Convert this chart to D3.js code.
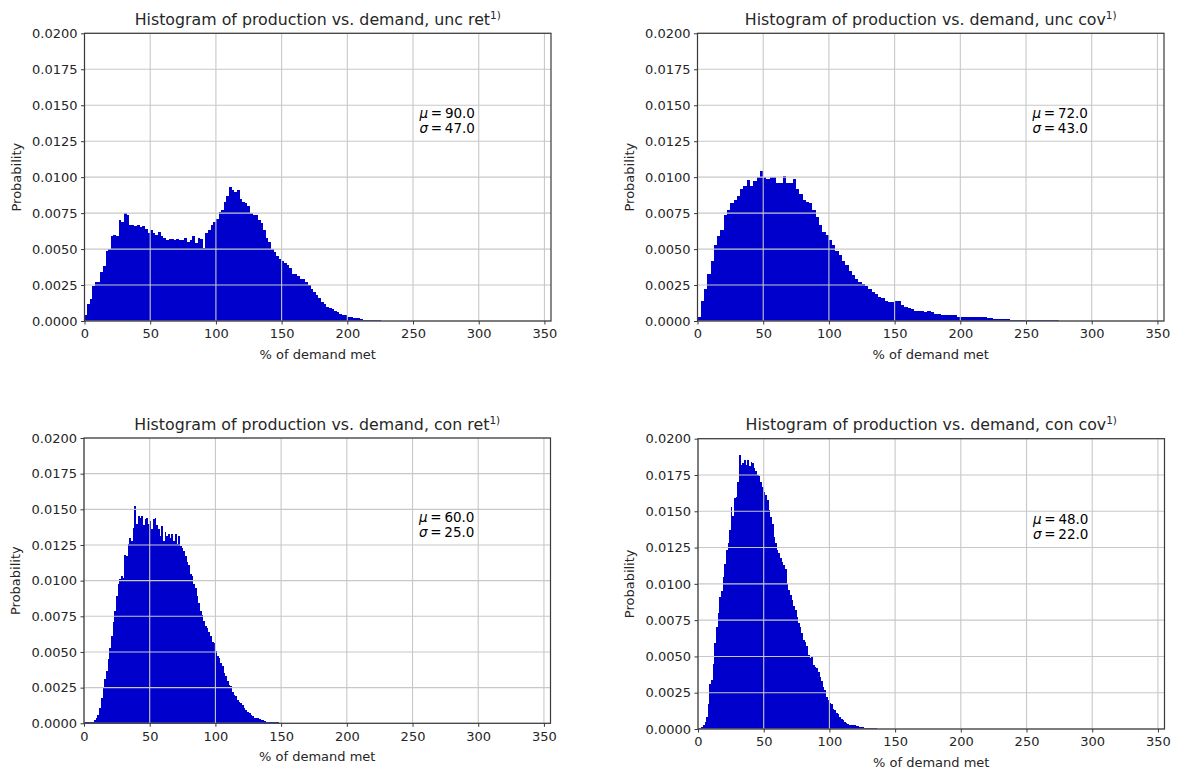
<!DOCTYPE html>
<html>
<head>
<meta charset="utf-8">
<script src="https://cdn.jsdelivr.net/npm/d3@7/dist/d3.min.js"></script>
<style>
  html, body { margin: 0; padding: 0; background: #ffffff; }
  svg { display: block; font-family: "DejaVu Sans", sans-serif; }
</style>
</head>
<body>
<svg id="chart" width="1181" height="769"></svg>
<script>
// ---------------- data ----------------
const xTickValues = [0, 50, 100, 150, 200, 250, 300, 350];
const yTickValues = [0, 0.0025, 0.005, 0.0075, 0.01, 0.0125, 0.015, 0.0175, 0.02];
const xLabel = "% of demand met";
const yLabel = "Probability";

const titles = [
  "Histogram of production vs. demand, unc ret",
  "Histogram of production vs. demand, unc cov",
  "Histogram of production vs. demand, con ret",
  "Histogram of production vs. demand, con cov"
];
const titleSuperscript = "1)";
const muValues = ["90.0", "72.0", "60.0", "48.0"];
const sigmaValues = ["47.0", "43.0", "25.0", "22.0"];

// bin widths (in % of demand met), bins start at 0
const binWidths = [2, 2.5, 1.28, 1.25];

const probUncRet = [
  0.0004, 0.0012, 0.0015, 0.0024, 0.0027, 0.0027, 0.0034, 0.0038, 0.0049, 0.0050,
  0.0059, 0.0060, 0.0059, 0.0070, 0.0069, 0.0075, 0.0074, 0.0067, 0.0067, 0.0066,
  0.0067, 0.0065, 0.0066, 0.0064, 0.0061, 0.0063, 0.0061, 0.0060, 0.0062, 0.0059,
  0.0058, 0.0056, 0.0057, 0.0057, 0.0056, 0.0057, 0.0056, 0.0056, 0.0058, 0.0055,
  0.0056, 0.0059, 0.0054, 0.0058, 0.0057, 0.0051, 0.0061, 0.0063, 0.0067, 0.0069,
  0.0071, 0.0076, 0.0077, 0.0083, 0.0087, 0.0093, 0.0091, 0.0090, 0.0091, 0.0085,
  0.0083, 0.0082, 0.0080, 0.0075, 0.0074, 0.0074, 0.0070, 0.0068, 0.0063, 0.0058,
  0.0055, 0.0050, 0.0048, 0.0045, 0.0043, 0.0042, 0.0040, 0.0039, 0.0037, 0.0033,
  0.0033, 0.0031, 0.0029, 0.0029, 0.0027, 0.0025, 0.0022, 0.0020, 0.0018, 0.0016,
  0.0013, 0.0012, 0.0010, 0.0009, 0.0008, 0.0007, 0.0006, 0.0005, 0.0004, 0.0004,
  0.0003, 0.0003, 0.0002, 0.0002, 0.0002, 0.00015, 0.0001, 0.0001, 0.00008, 0.00006,
  0.00004, 0.00003, 0.00002
];

const probUncCov = [
  0.0003, 0.0014, 0.0022, 0.0033, 0.0042, 0.0053, 0.0059, 0.0063, 0.0074, 0.0077,
  0.0082, 0.0084, 0.0087, 0.0092, 0.0094, 0.0098, 0.0094, 0.0097, 0.0100, 0.0104,
  0.0100, 0.0099, 0.0100, 0.0100, 0.0096, 0.0096, 0.0101, 0.0096, 0.0096, 0.0099,
  0.0092, 0.0088, 0.0084, 0.0083, 0.0082, 0.0077, 0.0072, 0.0067, 0.0062, 0.0060,
  0.0056, 0.0053, 0.0049, 0.0046, 0.0042, 0.0039, 0.0035, 0.0032, 0.0029, 0.0027,
  0.0026, 0.0024, 0.0022, 0.0020, 0.0019, 0.0017, 0.0016, 0.0014, 0.0013, 0.0013,
  0.0014, 0.0014, 0.0011, 0.0010, 0.0009, 0.0008, 0.0007, 0.0007, 0.0007, 0.00065,
  0.0007, 0.0006, 0.0005, 0.0005, 0.00045, 0.00045, 0.0004, 0.0004, 0.00045, 0.0003,
  0.0003, 0.00025, 0.00025, 0.00025, 0.00025, 0.0003, 0.00025, 0.00025, 0.0002, 0.00018,
  0.00016, 0.00014, 0.00013, 0.00012, 0.00011, 0.0001, 0.0001, 0.0001, 0.0001, 0.00009,
  0.00008, 0.00007, 0.00006, 0.00005, 0.00005, 0.00004, 0.00004, 0.00003, 0.00003, 0.00002
];

const probConRet = [
  0.00002, 0.00003, 0.00004, 0.00005, 0.00008, 0.0001, 0.0002, 0.0004, 0.0006, 0.0011,
  0.0018, 0.0025, 0.0031, 0.0037, 0.0045, 0.0053, 0.0061, 0.0071, 0.0079, 0.0089,
  0.0098, 0.0101, 0.0103, 0.0102, 0.0118, 0.0117, 0.0126, 0.0130, 0.0128, 0.0137,
  0.0152, 0.0140, 0.0145, 0.0144, 0.0145, 0.0139, 0.0143, 0.0144, 0.0140, 0.0142,
  0.0136, 0.0143, 0.0144, 0.0139, 0.0136, 0.0131, 0.0138, 0.0128, 0.0134, 0.0131,
  0.0133, 0.0130, 0.0133, 0.0128, 0.0133, 0.0126, 0.0131, 0.0124, 0.0123, 0.0121,
  0.0117, 0.0113, 0.0111, 0.0105, 0.0103, 0.0098, 0.0095, 0.0089, 0.0084, 0.0079,
  0.0076, 0.0072, 0.0068, 0.0067, 0.0064, 0.0061, 0.0057, 0.0056, 0.0051, 0.0047,
  0.0046, 0.0042, 0.0040, 0.0035, 0.0033, 0.0030, 0.0027, 0.0026, 0.0022, 0.0020,
  0.0019, 0.0016, 0.0015, 0.0014, 0.0013, 0.0011, 0.0009, 0.0008, 0.0007, 0.0006,
  0.0005, 0.0004, 0.0004, 0.0004, 0.0003, 0.00025, 0.0002, 0.00015, 0.0001, 0.00008,
  0.00006, 0.00005, 0.00004, 0.00003, 0.00002, 0.00002
];

const probConCov = [
  0.00002, 0.00005, 0.00015, 0.0003, 0.0005, 0.0008, 0.0017, 0.0031, 0.0034, 0.0045,
  0.0059, 0.0070, 0.0080, 0.0091, 0.0095, 0.0105, 0.0114, 0.0123, 0.0128, 0.0137,
  0.0153, 0.0147, 0.0159, 0.0160, 0.0170, 0.0189, 0.0182, 0.0183, 0.0185, 0.0182,
  0.0185, 0.0181, 0.0184, 0.0183, 0.0180, 0.0178, 0.0175, 0.0174, 0.0170, 0.0167,
  0.0163, 0.0161, 0.0158, 0.0151, 0.0146, 0.0141, 0.0132, 0.0128, 0.0123, 0.0121,
  0.0118, 0.0115, 0.0113, 0.0110, 0.0100, 0.0096, 0.0092, 0.0089, 0.0085, 0.0082,
  0.0077, 0.0073, 0.0070, 0.0066, 0.0061, 0.0060, 0.0057, 0.0051, 0.0049, 0.0050,
  0.0044, 0.0043, 0.0042, 0.0039, 0.0036, 0.0033, 0.0029, 0.0027, 0.0022, 0.0020,
  0.0018, 0.0017, 0.0014, 0.0013, 0.0011, 0.0010, 0.0008, 0.0007, 0.0006, 0.0005,
  0.0004, 0.00035, 0.0003, 0.0003, 0.0003, 0.0003, 0.0002, 0.0002, 0.00015, 0.00015,
  0.00012, 0.0001, 0.0001, 0.00008, 0.00006, 0.00005, 0.00004, 0.00003, 0.00002
];

const seriesList = [probUncRet, probUncCov, probConRet, probConCov];

// ---------------- layout ----------------
const panels = [
  { left: 84.5, right: 551, top: 33.3, bottom: 321 },
  { left: 697.5, right: 1164, top: 33.3, bottom: 321 },
  { left: 84, right: 550.5, top: 438, bottom: 723.3 },
  { left: 698, right: 1164.5, top: 438.7, bottom: 729 }
];
const xDomain = [0, 355];
const yDomain = [0, 0.02];
const barColor = "#0000cc";
const gridColor = "#c8c8c8";
const spineColor = "#3a3a3a";
const textColor = "#262626";

const svg = d3.select("#chart");

panels.forEach((p, idx) => {
  const data = seriesList[idx];
  const bw = binWidths[idx];
  const x = d3.scaleLinear().domain(xDomain).range([p.left, p.right]);
  const y = d3.scaleLinear().domain(yDomain).range([p.bottom, p.top]);
  const g = svg.append("g");

  // bars (edges snapped to whole pixels so neighbouring bins join seamlessly)
  const edge = v => Math.round(x(v));
  const base = Math.round(y(0));
  g.append("g")
    .attr("shape-rendering", "crispEdges")
    .selectAll("rect")
    .data(data)
    .join("rect")
    .attr("x", (d, i) => edge(i * bw))
    .attr("width", (d, i) => Math.max(1, edge((i + 1) * bw) - edge(i * bw)))
    .attr("y", d => Math.min(base - (d > 0 ? 1 : 0), Math.round(y(d))))
    .attr("height", d => Math.max(d > 0 ? 1 : 0, base - Math.round(y(d))))
    .attr("fill", barColor);

  // grid (drawn above bars, as in the reference)
  const grid = g.append("g");
  grid.selectAll("line.gx")
    .data(xTickValues)
    .join("line")
    .attr("class", "gx")
    .attr("x1", d => x(d)).attr("x2", d => x(d))
    .attr("y1", p.top).attr("y2", p.bottom)
    .attr("stroke", gridColor).attr("stroke-width", 1.1);
  grid.selectAll("line.gy")
    .data(yTickValues)
    .join("line")
    .attr("class", "gy")
    .attr("x1", p.left).attr("x2", p.right)
    .attr("y1", d => y(d)).attr("y2", d => y(d))
    .attr("stroke", gridColor).attr("stroke-width", 1.1);

  // axes
  const xAxis = d3.axisBottom(x).tickValues(xTickValues).tickFormat(d3.format("d"))
    .tickSizeInner(3.5).tickSizeOuter(0).tickPadding(4.5);
  const yAxis = d3.axisLeft(y).tickValues(yTickValues).tickFormat(d3.format(".4f"))
    .tickSizeInner(3.5).tickSizeOuter(0).tickPadding(3.5);

  const gx = g.append("g").attr("transform", `translate(0,${p.bottom})`).call(xAxis);
  const gy = g.append("g").attr("transform", `translate(${p.left},0)`).call(yAxis);
  [gx, gy].forEach(ax => {
    ax.select(".domain").remove();
    ax.selectAll(".tick line").attr("stroke", spineColor).attr("stroke-width", 1);
    ax.selectAll(".tick text")
      .attr("fill", textColor)
      .style("font-family", "'DejaVu Sans', sans-serif")
      .style("font-size", "13px");
  });

  // spines (box)
  g.append("rect")
    .attr("x", p.left).attr("y", p.top)
    .attr("width", p.right - p.left).attr("height", p.bottom - p.top)
    .attr("fill", "none").attr("stroke", spineColor).attr("stroke-width", 1.2);

  // title
  const cx = (p.left + p.right) / 2;
  const t = g.append("text")
    .attr("x", cx).attr("y", p.top - 8.5)
    .attr("text-anchor", "middle")
    .attr("fill", textColor)
    .style("font-size", "15.8px");
  t.append("tspan").text(titles[idx]);
  t.append("tspan").attr("dy", -6).style("font-size", "10.5px").text(titleSuperscript);

  // axis labels
  g.append("text")
    .attr("x", cx).attr("y", p.bottom + 37.5)
    .attr("text-anchor", "middle")
    .attr("fill", textColor)
    .style("font-size", "13px")
    .text(xLabel);
  g.append("text")
    .attr("transform", `translate(${p.left - 64},${(p.top + p.bottom) / 2}) rotate(-90)`)
    .attr("text-anchor", "middle")
    .attr("fill", textColor)
    .style("font-size", "13px")
    .text(yLabel);

  // statistics annotation, placed in data coordinates
  const ann = g.append("text")
    .attr("x", x(255)).attr("y", y(0.0141))
    .attr("fill", "#000")
    .style("font-size", "13.5px");
  const l1 = ann.append("tspan").attr("x", x(255));
  l1.append("tspan").style("font-style", "italic").text("\u03bc");
  l1.append("tspan").text("\u2009=\u2009" + muValues[idx]);
  const l2 = ann.append("tspan").attr("x", x(255)).attr("dy", 14.5);
  l2.append("tspan").style("font-style", "italic").text("\u03c3");
  l2.append("tspan").text("\u2009=\u2009" + sigmaValues[idx]);
});
</script>
</body>
</html>
